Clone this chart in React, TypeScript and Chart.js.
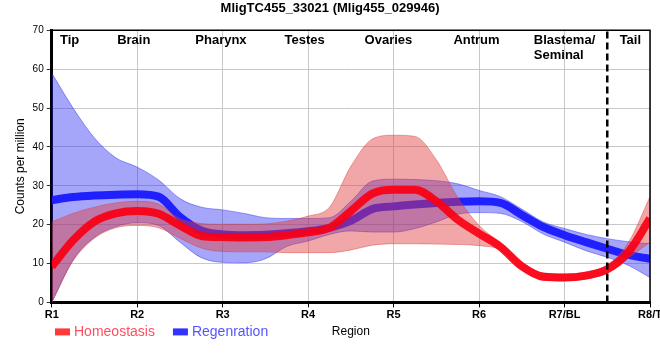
import React, { useEffect, useRef } from 'react';
import { Chart, registerables } from 'chart.js';

Chart.register(...registerables);

const FONT = "'Liberation Sans', Arial, sans-serif";

// x positions along the body axis (0 = R1 ... 7 = R8/T)
const xPositions = [0, 0.25, 0.5, 0.75, 1, 1.25, 1.5, 1.75, 2, 2.25, 2.5, 2.75, 3, 3.25, 3.5, 3.75, 4, 4.25, 4.5, 4.75, 5, 5.25, 5.5, 5.75, 6, 6.25, 6.5, 6.75, 7];

const homeoMean = [9.2, 16, 20.8, 22.9, 23.5, 22.8, 19.8, 17.1, 16.8, 16.7, 16.8, 17.3, 18.0, 19.2, 23.5, 28.0, 29.0, 29.0, 26.0, 21.3, 17.7, 14.3, 9.3, 6.6, 6.4, 6.9, 8.5, 13.0, 21.6];
const homeoUpper = [20.7, 22.9, 24.5, 25.6, 26.0, 25.3, 21.5, 20.3, 20.1, 20.1, 20.2, 20.9, 22.2, 24.5, 35.0, 42.0, 43.0, 42.7, 36.7, 27.0, 19.8, 15.3, 10.3, 7.6, 7.3, 7.8, 9.6, 15.5, 27.2];
const homeoLower = [0, 10.7, 16.5, 19.2, 19.8, 19.2, 16.5, 14.0, 13.1, 13.0, 13.0, 12.8, 12.8, 12.8, 13.5, 14.7, 15.1, 15.1, 15.0, 14.9, 14.6, 13.5, 8.6, 5.8, 5.6, 6.0, 7.6, 11.5, 15.5];

const regenMean = [26.3, 27.1, 27.5, 27.7, 27.8, 27.2, 22.0, 18.5, 17.5, 17.3, 17.4, 17.8, 18.3, 19.2, 21.0, 24.0, 24.7, 25.2, 25.6, 25.9, 26.0, 25.6, 22.5, 19.4, 17.3, 15.5, 13.8, 12.2, 11.2];
const regenUpper = [59, 50.0, 42.3, 37.2, 34.8, 31.5, 26.7, 24.5, 23.8, 22.9, 21.8, 21.6, 21.6, 21.8, 26.0, 31.2, 31.7, 31.6, 31.3, 30.5, 28.8, 27.2, 24.0, 20.7, 19.0, 17.5, 16.4, 15.6, 15.1];
const regenLower = [0, 10.9, 16.8, 19.5, 20.5, 19.8, 15.5, 11.5, 10.3, 10.2, 11.2, 14.4, 15.8, 17.5, 18.4, 18.1, 18.1, 19.0, 20.7, 22.7, 23.1, 22.9, 20.8, 17.6, 15.5, 13.3, 11.6, 9.5, 6.4];

const tickLabels = ['R1', 'R2', 'R3', 'R4', 'R5', 'R6', 'R7/BL', 'R8/T'];
const regionNames = [['Tip'], ['Brain'], ['Pharynx'], ['Testes'], ['Ovaries'], ['Antrum'], ['Blastema/', 'Seminal'], ['Tail']];
const regionAt = [0.21, 0.96, 1.98, 2.96, 3.94, 4.97, 6.0, 6.77];
const tailBoundary = 6.5;
const yMin = 0;
const yMax = 70;

const seriesNames = ['Homeostasis', 'Regenration'];

const pts = (vals: number[]) => xPositions.map((x, i) => ({ x, y: vals[i] }));

const decorPlugin = {
  id: 'decor',
  afterDraw(chart: any) {
    const { ctx, chartArea: a, scales } = chart;
    const xs = scales.x;
    ctx.save();
    // top and right frame
    ctx.strokeStyle = '#000';
    ctx.lineWidth = 1.5;
    ctx.beginPath();
    ctx.moveTo(a.left, a.top);
    ctx.lineTo(a.right, a.top);
    ctx.lineTo(a.right, a.bottom);
    ctx.stroke();

    // region labels
    ctx.fillStyle = '#000';
    ctx.font = `bold 13px ${FONT}`;
    ctx.textBaseline = 'alphabetic';
    ctx.textAlign = 'left';
    regionNames.forEach((lines, i) => {
      const cx = xs.getPixelForValue(regionAt[i]);
      const w = Math.max(...lines.map((l) => ctx.measureText(l).width));
      lines.forEach((l, j) => {
        ctx.fillText(l, cx - w / 2, a.top + 14 + j * 15);
      });
    });

    // legend
    const ly = a.bottom + 29.5;
    let lx = 55;
    ctx.font = `14px ${FONT}`;
    ctx.textBaseline = 'middle';
    chart.data.datasets.filter((d: any) => d.legendText).forEach((d: any) => {
      ctx.fillStyle = d.legendBox;
      ctx.fillRect(lx, ly - 3.5, 15, 7);
      ctx.fillStyle = d.legendText;
      ctx.fillText(d.label, lx + 19, ly);
      lx += 19 + ctx.measureText(d.label).width + 18;
    });
    ctx.restore();
  },
};

export default function App() {
  const ref = useRef<HTMLCanvasElement>(null);
  useEffect(() => {
    document.body.style.margin = '0';
    const redBand = 'rgba(225, 60, 60, 0.45)';
    const redEdge = 'rgba(215, 60, 60, 0.45)';
    const blueBand = 'rgba(40, 40, 240, 0.42)';
    const blueEdge = 'rgba(40, 40, 240, 0.45)';
    const common = { pointRadius: 0, pointHoverRadius: 0, cubicInterpolationMode: 'monotone' as const };
    const chart = new Chart(ref.current!, {
      type: 'line',
      data: {
        datasets: [
          {
            label: seriesNames[0], data: pts(homeoMean), borderColor: 'rgba(250, 0, 20, 0.92)', borderWidth: 8,
            fill: false, order: 1, borderCapStyle: 'butt', legendBox: '#ff3a3a', legendText: '#ff4f5f', ...common,
          } as any,
          { label: 'h-upper', data: pts(homeoUpper), borderColor: redEdge, borderWidth: 1, backgroundColor: redBand, fill: '+1', order: 2, ...common },
          { label: 'h-lower', data: pts(homeoLower), borderColor: redEdge, borderWidth: 1, fill: false, order: 2, ...common },
          {
            label: seriesNames[1], data: pts(regenMean), borderColor: 'rgba(25, 25, 255, 0.95)', borderWidth: 8,
            fill: false, order: 3, borderCapStyle: 'butt', legendBox: '#3333ff', legendText: '#5555ff', ...common,
          } as any,
          { label: 'r-upper', data: pts(regenUpper), borderColor: blueEdge, borderWidth: 1, backgroundColor: blueBand, fill: '+1', order: 4, ...common },
          { label: 'r-lower', data: pts(regenLower), borderColor: blueEdge, borderWidth: 1, fill: false, order: 4, ...common },
          {
            label: 'tail', data: [{ x: tailBoundary, y: yMin }, { x: tailBoundary, y: yMax }], borderColor: '#000',
            borderWidth: 2.5, borderDash: [7, 4], pointRadius: 0, fill: false, order: 0,
          },
        ],
      },
      options: {
        responsive: false,
        animation: false,
        events: [],
        layout: { padding: { top: 0, right: 10, bottom: 16.7, left: 10.2 } },
        plugins: {
          legend: { display: false },
          tooltip: { enabled: false },
          title: {
            display: true,
            text: 'MligTC455_33021 (Mlig455_029946)',
            color: '#000',
            font: { family: FONT, size: 13, weight: 'bold' },
            padding: { top: 1, bottom: 13.7 },
          },
        },
        scales: {
          x: {
            type: 'linear',
            min: 0,
            max: 7,
            afterFit: (s: any) => { s.paddingRight = 0; s.paddingLeft = 0; },
            ticks: {
              stepSize: 1,
              autoSkip: false,
              maxRotation: 0,
              padding: 1,
              color: '#000',
              font: { family: FONT, size: 11, weight: 'bold' },
              callback: (v: any) => (Number.isInteger(v) ? tickLabels[v] : ''),
            },
            grid: { color: '#c8c8c8', tickColor: '#000', tickLength: 5 },
            border: { display: true, color: '#000', width: 3 },
            title: { display: true, text: 'Region', color: '#000', font: { family: FONT, size: 12 }, padding: { top: 2.3, bottom: 4 } },
          },
          y: {
            min: yMin,
            max: yMax,
            ticks: { stepSize: 10, color: '#000', padding: 3, font: { family: FONT, size: 10 } },
            grid: { color: '#c8c8c8', tickColor: '#333', tickLength: 5 },
            border: { display: true, color: '#000', width: 3 },
            title: { display: true, text: 'Counts per million', color: '#000', font: { family: FONT, size: 12 }, padding: { top: 3, bottom: 2 } },
          },
        },
      },
      plugins: [decorPlugin],
    } as any);
    return () => chart.destroy();
  }, []);
  return (
    <div style={{ width: 660, height: 360 }}>
      <canvas ref={ref} width={660} height={360} style={{ display: 'block' }} />
    </div>
  );
}
